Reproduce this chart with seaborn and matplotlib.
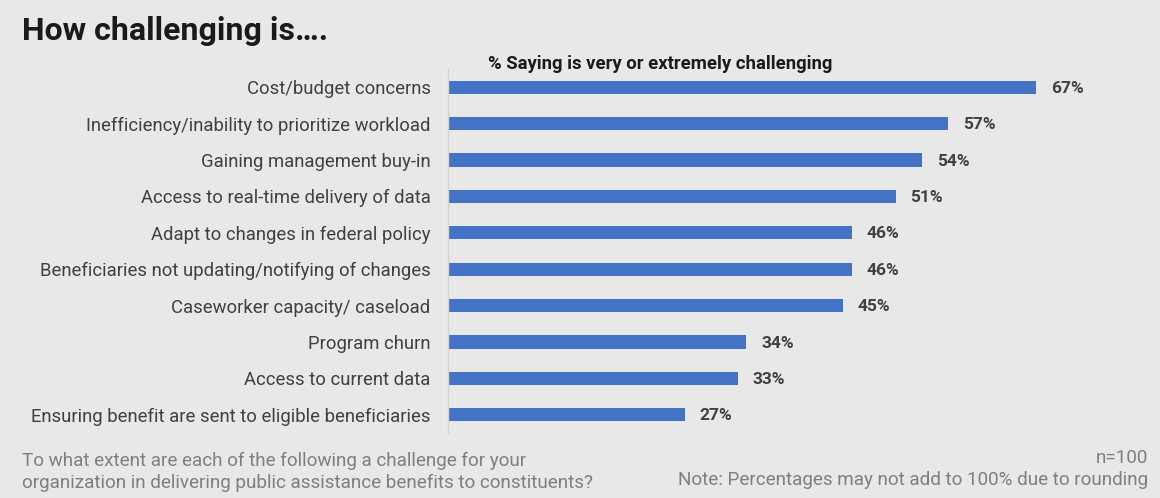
import matplotlib
matplotlib.use("Agg")
import matplotlib.pyplot as plt
import pandas as pd
import seaborn as sns

categories = [
    "Cost/budget concerns",
    "Inefficiency/inability to prioritize workload",
    "Gaining management buy-in",
    "Access to real-time delivery of data",
    "Adapt to changes in federal policy",
    "Beneficiaries not updating/notifying of changes",
    "Caseworker capacity/ caseload",
    "Program churn",
    "Access to current data",
    "Ensuring benefit are sent to eligible beneficiaries",
]
values = [67, 57, 54, 51, 46, 46, 45, 34, 33, 27]

title = "How challenging is…."
subtitle = "% Saying is very or extremely challenging"
footnote_left = ("To what extent are each of the following a challenge for your\n"
                 "organization in delivering public assistance benefits to constituents?")
footnote_right = "n=100\nNote: Percentages may not add to 100% due to rounding"

BG = "#e8e8e8"
BAR = "#4472c4"

sns.set_theme(style="white")
plt.rcParams["font.family"] = ["Roboto", "DejaVu Sans"]

df = pd.DataFrame({"category": categories, "value": values})

fig = plt.figure(figsize=(11.6, 4.98), dpi=100, facecolor=BG)
ax = fig.add_axes([448 / 1160, 1 - 433 / 498, 702 / 1160, (433 - 69) / 498])
ax.set_facecolor(BG)

sns.barplot(data=df, x="value", y="category", color=BAR, width=0.36,
            saturation=1, linewidth=0, ax=ax)

ax.set_xlim(0, 80)
ax.set_xlabel("")
ax.set_ylabel("")
ax.set_xticks([])
ax.tick_params(axis="y", length=0, pad=12.5, labelsize=13.3, labelcolor="#404040")
for side in ["top", "right", "bottom"]:
    ax.spines[side].set_visible(False)
ax.spines["left"].set_color("#d4d4d4")
ax.spines["left"].set_linewidth(1)

for i, v in enumerate(values):
    ax.text(v + 1.7, i + 0.03, f"{v}%", va="center", ha="left", fontsize=12.5,
            fontweight="bold", color="#404040")

fig.text(22 / 1160, 1 - 31 / 498, title, fontsize=23, fontweight="bold",
         color="#1a1a1a", ha="left", va="center")
fig.text(660 / 1160, 1 - 64 / 498, subtitle, fontsize=13.3, fontweight="bold",
         color="#1a1a1a", ha="center", va="center")
fig.text(22 / 1160, 1 - 472 / 498, footnote_left, fontsize=13.6, color="#7f7f7f",
         ha="left", va="center", linespacing=1.3)
fig.text(1148 / 1160, 1 - 469 / 498, footnote_right, fontsize=13.6, color="#7f7f7f",
         ha="right", va="center", linespacing=1.3, multialignment="right")

fig.savefig("out.png", dpi=100, facecolor=BG)
